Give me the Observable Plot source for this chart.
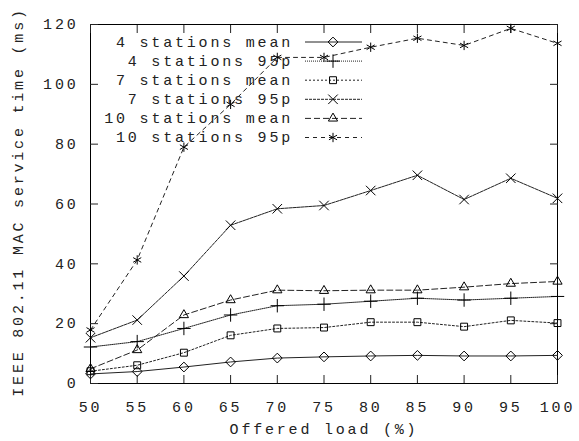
<!DOCTYPE html>
<html>
<head>
<meta charset="utf-8">
<script src="https://cdn.jsdelivr.net/npm/d3@7"></script>
<script src="https://cdn.jsdelivr.net/npm/@observablehq/plot@0.6"></script>
<style>
  html, body { margin: 0; padding: 0; background: #fff; }
  svg text { font-family: "Liberation Mono", "DejaVu Sans Mono", monospace; }
</style>
</head>
<body>
<div id="chart"></div>
<script>
const load = [50, 55, 60, 65, 70, 75, 80, 85, 90, 95, 100];
const mean4  = [3.2, 4.0, 5.5, 7.2, 8.5, 8.9, 9.2, 9.4, 9.2, 9.2, 9.4];
const p95_4  = [12.2, 14.0, 18.4, 22.9, 26.0, 26.5, 27.5, 28.5, 27.9, 28.5, 29.1];
const mean7  = [4.1, 6.1, 10.3, 16.1, 18.4, 18.7, 20.5, 20.5, 19.0, 21.1, 20.2];
const p95_7  = [15.3, 21.2, 35.9, 52.9, 58.4, 59.5, 64.5, 69.6, 61.5, 68.6, 61.9];
const mean10 = [4.9, 11.2, 22.9, 27.9, 31.2, 31.0, 31.2, 31.2, 32.2, 33.4, 34.1];
const p95_10 = [17.9, 41.3, 79.0, 93.3, 109.0, 109.0, 112.4, 115.4, 113.0, 118.7, 113.7];
const seriesNames = ["4 stations mean", "4 stations 95p", "7 stations mean", "7 stations 95p", "10 stations mean", "10 stations 95p"];
const yTicks = [0, 20, 40, 60, 80, 100, 120];

const seriesValues = [mean4, p95_4, mean7, p95_7, mean10, p95_10];
const styles = [
  {symbol: "diamond2", dash: null, d3sym: d3.symbolDiamond2},
  {symbol: "plus", dash: "1,1", d3sym: d3.symbolPlus},
  {symbol: "square2", dash: "2,2", d3sym: d3.symbolSquare2},
  {symbol: "times", dash: "3,1", d3sym: d3.symbolTimes},
  {symbol: "triangle2", dash: "6,3", d3sym: d3.symbolTriangle2},
  {symbol: "asterisk", dash: "4,4", d3sym: d3.symbolAsterisk}
];
const R = 4.4;
const strokeCol = "#222";
const textCol = "#222";
const FS = 15;
const LS = "2.8px";

const marks = [];
seriesValues.forEach((vals, i) => {
  const data = load.map((x, j) => ({x, y: vals[j]}));
  marks.push(Plot.line(data, {x: "x", y: "y", stroke: strokeCol, strokeWidth: 1, strokeDasharray: styles[i].dash}));
  marks.push(Plot.dot(data, {x: "x", y: "y", symbol: styles[i].symbol, r: R, stroke: "#000", strokeWidth: 1, fill: "none"}));
});

const plot = Plot.plot({
  width: 579,
  height: 441,
  marginLeft: 90,
  marginRight: 22,
  marginTop: 24,
  marginBottom: 58,
  style: {fontSize: FS + "px", fontFamily: "Liberation Mono, DejaVu Sans Mono, monospace", background: "#fff", color: textCol},
  x: {domain: [50, 100]},
  y: {domain: [0, 120]},
  marks: [
    Plot.frame({stroke: "#000", strokeWidth: 1}),
    Plot.axisX({ticks: load, tickSize: -8, fill: "none", label: null, anchor: "bottom"}),
    Plot.axisX({ticks: load, tickSize: -8, fill: "none", label: null, anchor: "top"}),
    Plot.axisY({ticks: yTicks, tickSize: -8, fill: "none", label: null, anchor: "left"}),
    Plot.axisY({ticks: yTicks, tickSize: -8, fill: "none", label: null, anchor: "right"}),
    Plot.axisX({ticks: load, tickSize: 0, tickPadding: 18, label: null, anchor: "bottom", fontSize: FS, fill: textCol}),
    Plot.axisY({ticks: yTicks, tickSize: 0, tickPadding: 12, label: null, anchor: "left", fontSize: FS, fill: textCol}),
    Plot.text(["Offered load (%)"], {frameAnchor: "bottom", dy: 50, fontSize: FS, fill: textCol}),
    Plot.text(["IEEE 802.11 MAC service time (ms)"], {frameAnchor: "left", textAnchor: "middle", rotate: -90, dx: -72, dy: -2, fontSize: FS, fill: textCol}),
    ...marks
  ]
});

document.getElementById("chart").appendChild(plot);

// letter spacing like the gnuplot vector font
d3.select(plot).selectAll("text").attr("letter-spacing", LS);

// Legend (inside the plot, top-left)
const svg = d3.select(plot);
const lg = svg.append("g").attr("class", "legend");
const textRight = 293, lineX1 = 305, lineX2 = 362, markX = 333, row0 = 42, rowStep = 19.1;
seriesNames.forEach((name, i) => {
  const yy = row0 + i * rowStep;
  lg.append("text")
    .attr("x", textRight).attr("y", yy)
    .attr("dy", "0.32em")
    .attr("text-anchor", "end")
    .attr("font-size", FS)
    .attr("letter-spacing", LS)
    .attr("fill", textCol)
    .text(name);
  lg.append("line")
    .attr("x1", lineX1).attr("x2", lineX2).attr("y1", yy).attr("y2", yy)
    .attr("stroke", strokeCol).attr("stroke-width", 1)
    .attr("stroke-dasharray", styles[i].dash);
  lg.append("path")
    .attr("transform", `translate(${markX},${yy})`)
    .attr("d", d3.symbol(styles[i].d3sym, Math.PI * R * R)())
    .attr("fill", "none").attr("stroke", "#000").attr("stroke-width", 1);
});
</script>
</body>
</html>
